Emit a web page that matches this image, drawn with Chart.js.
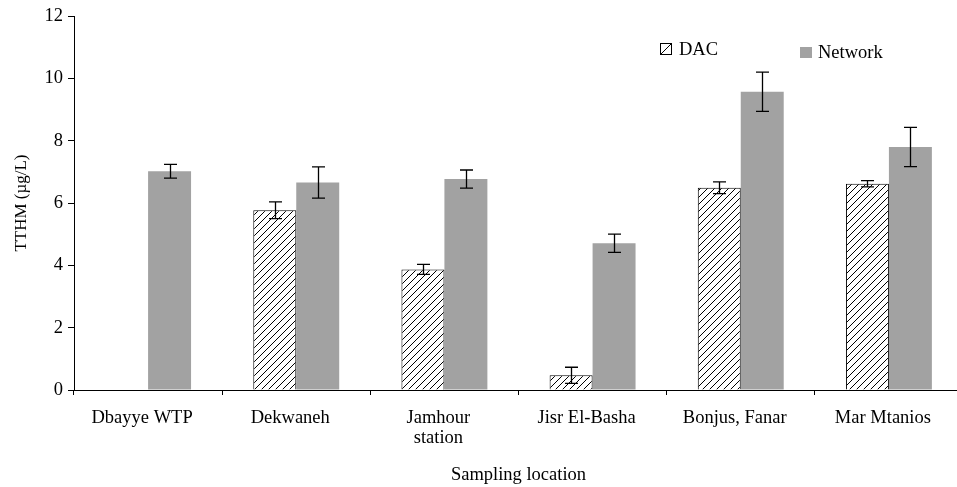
<!DOCTYPE html>
<html>
<head>
<meta charset="utf-8">
<script src="https://cdn.jsdelivr.net/npm/chart.js@4.4.1/dist/chart.umd.min.js"></script>
<style>
  html, body { margin: 0; padding: 0; background: #fff; overflow: hidden; }
  #wrap { width: 964px; height: 487px; }
</style>
</head>
<body>
<div id="wrap"><canvas id="chart" width="964" height="487"></canvas></div>
<script>
// data
const locations = ['Dbayye WTP', 'Dekwaneh', ['Jamhour', 'station'], 'Jisr El-Basha', 'Bonjus, Fanar', 'Mar Mtanios'];
const dacValues = [null, 5.77, 3.87, 0.47, 6.49, 6.62];
const dacErrors = [null, 0.27, 0.16, 0.26, 0.19, 0.10];
const networkValues = [7.02, 6.66, 6.77, 4.71, 9.57, 7.80];
const networkErrors = [0.22, 0.50, 0.29, 0.29, 0.63, 0.63];
const yTicks = [0, 2, 4, 6, 8, 10, 12];

const serif = "'Liberation Serif', 'Times New Roman', serif";
const grey = 'rgb(162,162,162)';

function hatch() {
  const s = 7;
  const c = document.createElement('canvas');
  c.width = s; c.height = s;
  const g = c.getContext('2d');
  g.fillStyle = '#fff';
  g.fillRect(0, 0, s, s);
  g.strokeStyle = '#000';
  g.lineWidth = 1;
  g.beginPath();
  g.moveTo(0, s); g.lineTo(s, 0);
  g.moveTo(-1, 1); g.lineTo(1, -1);
  g.moveTo(s - 1, s + 1); g.lineTo(s + 1, s - 1);
  g.stroke();
  return g.createPattern(c, 'repeat');
}
const hatchFill = hatch();

// error bars from each dataset's errors array
const errorBars = {
  id: 'errorBars',
  afterDatasetsDraw(chart) {
    const ctx = chart.ctx;
    const y = chart.scales.y;
    ctx.save();
    ctx.strokeStyle = '#000';
    ctx.lineWidth = 1.3;
    chart.data.datasets.forEach((ds, i) => {
      const meta = chart.getDatasetMeta(i);
      meta.data.forEach((bar, j) => {
        const v = ds.data[j], e = ds.errors[j];
        if (v == null || e == null) return;
        const top = y.getPixelForValue(v + e);
        const bot = y.getPixelForValue(v - e);
        const x = Math.round(bar.x) + 0.5;
        ctx.beginPath();
        ctx.moveTo(x, top); ctx.lineTo(x, bot);
        ctx.moveTo(x - 6.5, top); ctx.lineTo(x + 6.5, top);
        ctx.moveTo(x - 6.5, bot); ctx.lineTo(x + 6.5, bot);
        ctx.stroke();
      });
    });
    ctx.restore();
  }
};

// legend inside the plot, as in the figure
const plotLegend = {
  id: 'plotLegend',
  afterDraw(chart) {
    const ctx = chart.ctx;
    const ds = chart.data.datasets;
    ctx.save();
    ctx.font = '18.5px ' + serif;
    ctx.fillStyle = '#000';
    ctx.textBaseline = 'middle';
    // DAC
    ctx.fillStyle = '#fff';
    ctx.fillRect(660.5, 43.5, 11, 11);
    ctx.strokeStyle = '#000';
    ctx.lineWidth = 1;
    ctx.strokeRect(660.5, 43.5, 11, 11);
    ctx.beginPath();
    ctx.moveTo(661, 54); ctx.lineTo(671, 44);
    ctx.stroke();
    ctx.fillStyle = '#000';
    ctx.fillText(ds[0].label, 679, 50);
    // Network
    ctx.fillStyle = ds[1].backgroundColor;
    ctx.fillRect(800, 47, 12, 11);
    ctx.fillStyle = '#000';
    ctx.fillText(ds[1].label, 818, 53);
    ctx.restore();
  }
};

new Chart(document.getElementById('chart'), {
  type: 'bar',
  data: {
    labels: locations,
    datasets: [
      {
        label: 'DAC',
        data: dacValues,
        errors: dacErrors,
        backgroundColor: hatchFill,
        borderColor: '#000',
        borderWidth: 1,
        categoryPercentage: 0.58,
        barPercentage: 1.0
      },
      {
        label: 'Network',
        data: networkValues,
        errors: networkErrors,
        backgroundColor: grey,
        borderWidth: 0,
        categoryPercentage: 0.58,
        barPercentage: 1.0
      }
    ]
  },
  options: {
    responsive: false,
    animation: false,
    layout: { padding: { top: 15, right: 1, left: 0, bottom: 0 } },
    plugins: {
      legend: { display: false },
      tooltip: { enabled: false }
    },
    scales: {
      x: {
        afterFit(scale) { scale.height = 97; },
        border: { display: true, color: '#000', width: 1 },
        grid: { offset: true, drawOnChartArea: false, drawTicks: true, tickLength: 5, color: '#000' },
        ticks: { color: '#000', font: { family: serif, size: 18.5, lineHeight: 1.08 }, padding: 13, labelOffset: -6, maxRotation: 0, autoSkip: false },
        title: { display: true, text: 'Sampling location', color: '#000', font: { family: serif, size: 18.5 }, padding: { top: 4, bottom: 1 } }
      },
      y: {
        min: 0,
        max: 12,
        afterFit(scale) { scale.width = 74; },
        afterBuildTicks(scale) { scale.ticks = yTicks.map(v => ({ value: v })); },
        border: { display: true, color: '#000', width: 1 },
        grid: { drawOnChartArea: false, drawTicks: true, tickLength: 6, color: '#000' },
        ticks: { color: '#000', font: { family: serif, size: 18.5 }, padding: 5 },
        title: { display: true, text: 'TTHM (µg/L)', color: '#000', font: { family: serif, size: 17 }, padding: { top: 11, bottom: 0 } }
      }
    }
  },
  plugins: [errorBars, plotLegend]
});
</script>
</body>
</html>
